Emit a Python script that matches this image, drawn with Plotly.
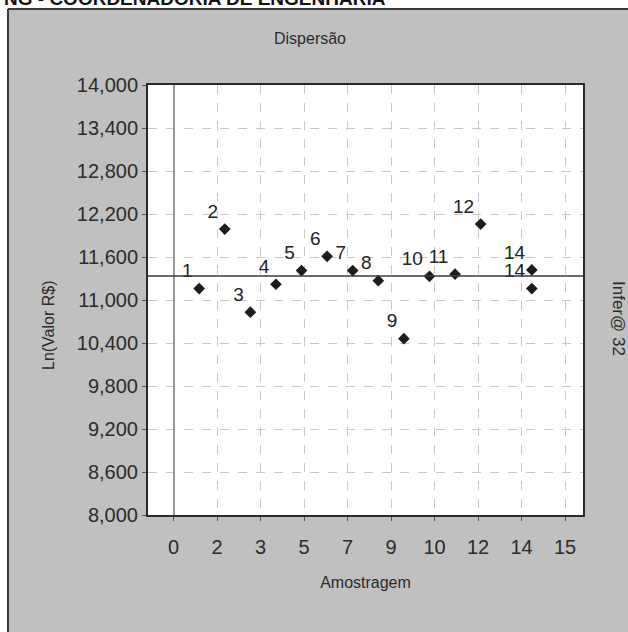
import plotly.graph_objects as go

# ---- data ----
amostra = [1, 2, 3, 4, 5, 6, 7, 8, 9, 10, 11, 12, 14, 14]
ln_valor = [11.16, 11.99, 10.83, 11.22, 11.41, 11.61, 11.41, 11.27, 10.46,
            11.33, 11.36, 12.06, 11.42, 11.16]
rotulos = ["1", "2", "3", "4", "5", "6", "7", "8", "9", "10", "11", "12", "14", "14"]

x_tickvals = [0, 1.7, 3.4, 5.1, 6.8, 8.5, 10.2, 11.9, 13.6, 15.3]
x_ticktext = ["0", "2", "3", "5", "7", "9", "10", "12", "14", "15"]
y_tickvals = [8.0, 8.6, 9.2, 9.8, 10.4, 11.0, 11.6, 12.2, 12.8, 13.4, 14.0]
y_ticktext = ["8,000", "8,600", "9,200", "9,800", "10,400", "11,000", "11,600",
              "12,200", "12,800", "13,400", "14,000"]

media = sum(ln_valor) / len(ln_valor)

FONT = "Liberation Sans, Arial, sans-serif"
TXT = "#2b2b2b"
PANEL = "#c0c0c0"

W, H = 628, 632
L, R, T, B = 148, 45, 85, 117
pw, ph = W - L - R, H - T - B


def px(xp):
    return (xp - L) / pw


def py(yp):
    return (H - B - yp) / ph


fig = go.Figure()
fig.add_trace(go.Scatter(
    x=amostra, y=ln_valor, mode="markers+text",
    text=rotulos, textposition="top left",
    textfont=dict(family=FONT, size=19, color="#222222"),
    marker=dict(symbol="diamond", size=9, color="#1c1c1c"),
    showlegend=False, cliponaxis=False,
))

fig.update_layout(
    width=W, height=H,
    margin=dict(l=L, r=R, t=T, b=B),
    paper_bgcolor=PANEL, plot_bgcolor="white",
    font=dict(family=FONT, color=TXT),
    title=dict(text="Dispersão", x=310 / W, xanchor="center",
               y=1 - 38 / H, yanchor="middle",
               font=dict(family=FONT, size=16, color=TXT)),
    xaxis=dict(range=[-1, 16], tickvals=x_tickvals, ticktext=x_ticktext,
               tickfont=dict(size=20, color=TXT),
               showgrid=True, gridcolor="#c8c8c8", griddash="dash", gridwidth=1,
               zeroline=True, zerolinecolor="#9a9a9a", zerolinewidth=1.5,
               showline=True, linecolor="#2a2a2a", linewidth=2, mirror=True,
               ticks="outside", ticklen=4, tickcolor="#555555",
               ticklabelstandoff=9,
               title=dict(text="Amostragem", font=dict(size=16, color=TXT), standoff=20)),
    yaxis=dict(range=[8, 14], tickvals=y_tickvals, ticktext=y_ticktext,
               tickfont=dict(size=20, color=TXT),
               showgrid=True, gridcolor="#c8c8c8", griddash="dash", gridwidth=1,
               zeroline=False,
               showline=True, linecolor="#2a2a2a", linewidth=2, mirror=True,
               ticks="outside", ticklen=4, tickcolor="#555555"),
)

# mean line
fig.add_shape(type="line", xref="paper", yref="y", x0=0, x1=1, y0=media, y1=media,
              line=dict(color="#3a3a3a", width=1.6), layer="above")

# white page strips outside the panel + panel border
fig.add_shape(type="rect", xref="paper", yref="paper",
              x0=px(-5), x1=px(W + 5), y0=py(9), y1=py(-5),
              fillcolor="white", line=dict(width=0), layer="above")
fig.add_shape(type="rect", xref="paper", yref="paper",
              x0=px(-5), x1=px(8), y0=py(H + 5), y1=py(-5),
              fillcolor="white", line=dict(width=0), layer="above")
fig.add_shape(type="line", xref="paper", yref="paper",
              x0=px(8), x1=px(W + 5), y0=py(9), y1=py(9),
              line=dict(color="#3a3a3a", width=2), layer="above")
fig.add_shape(type="line", xref="paper", yref="paper",
              x0=px(8), x1=px(8), y0=py(9), y1=py(H + 5),
              line=dict(color="#3a3a3a", width=2), layer="above")

# axis titles / side text
fig.add_annotation(text="Ln(Valor R$)", xref="paper", yref="paper",
                   x=px(48), y=py(325), xanchor="center", yanchor="middle",
                   textangle=-90, showarrow=False,
                   font=dict(family=FONT, size=16, color=TXT))
fig.add_annotation(text="Infer@ 32", xref="paper", yref="paper",
                   x=px(619), y=py(318), xanchor="center", yanchor="middle",
                   textangle=90, showarrow=False,
                   font=dict(family=FONT, size=17, color=TXT))
# cut-off document header at the top of the scan
fig.add_annotation(text="<b>NG - COORDENADORIA DE ENGENHARIA</b>", xref="paper", yref="paper",
                   x=px(2), y=py(11), xanchor="left", yanchor="bottom", showarrow=False,
                   font=dict(family=FONT, size=19, color="#111111"))

fig.write_html("out.html", config={"displayModeBar": False},
               post_script="document.body.style.margin='0px';")
